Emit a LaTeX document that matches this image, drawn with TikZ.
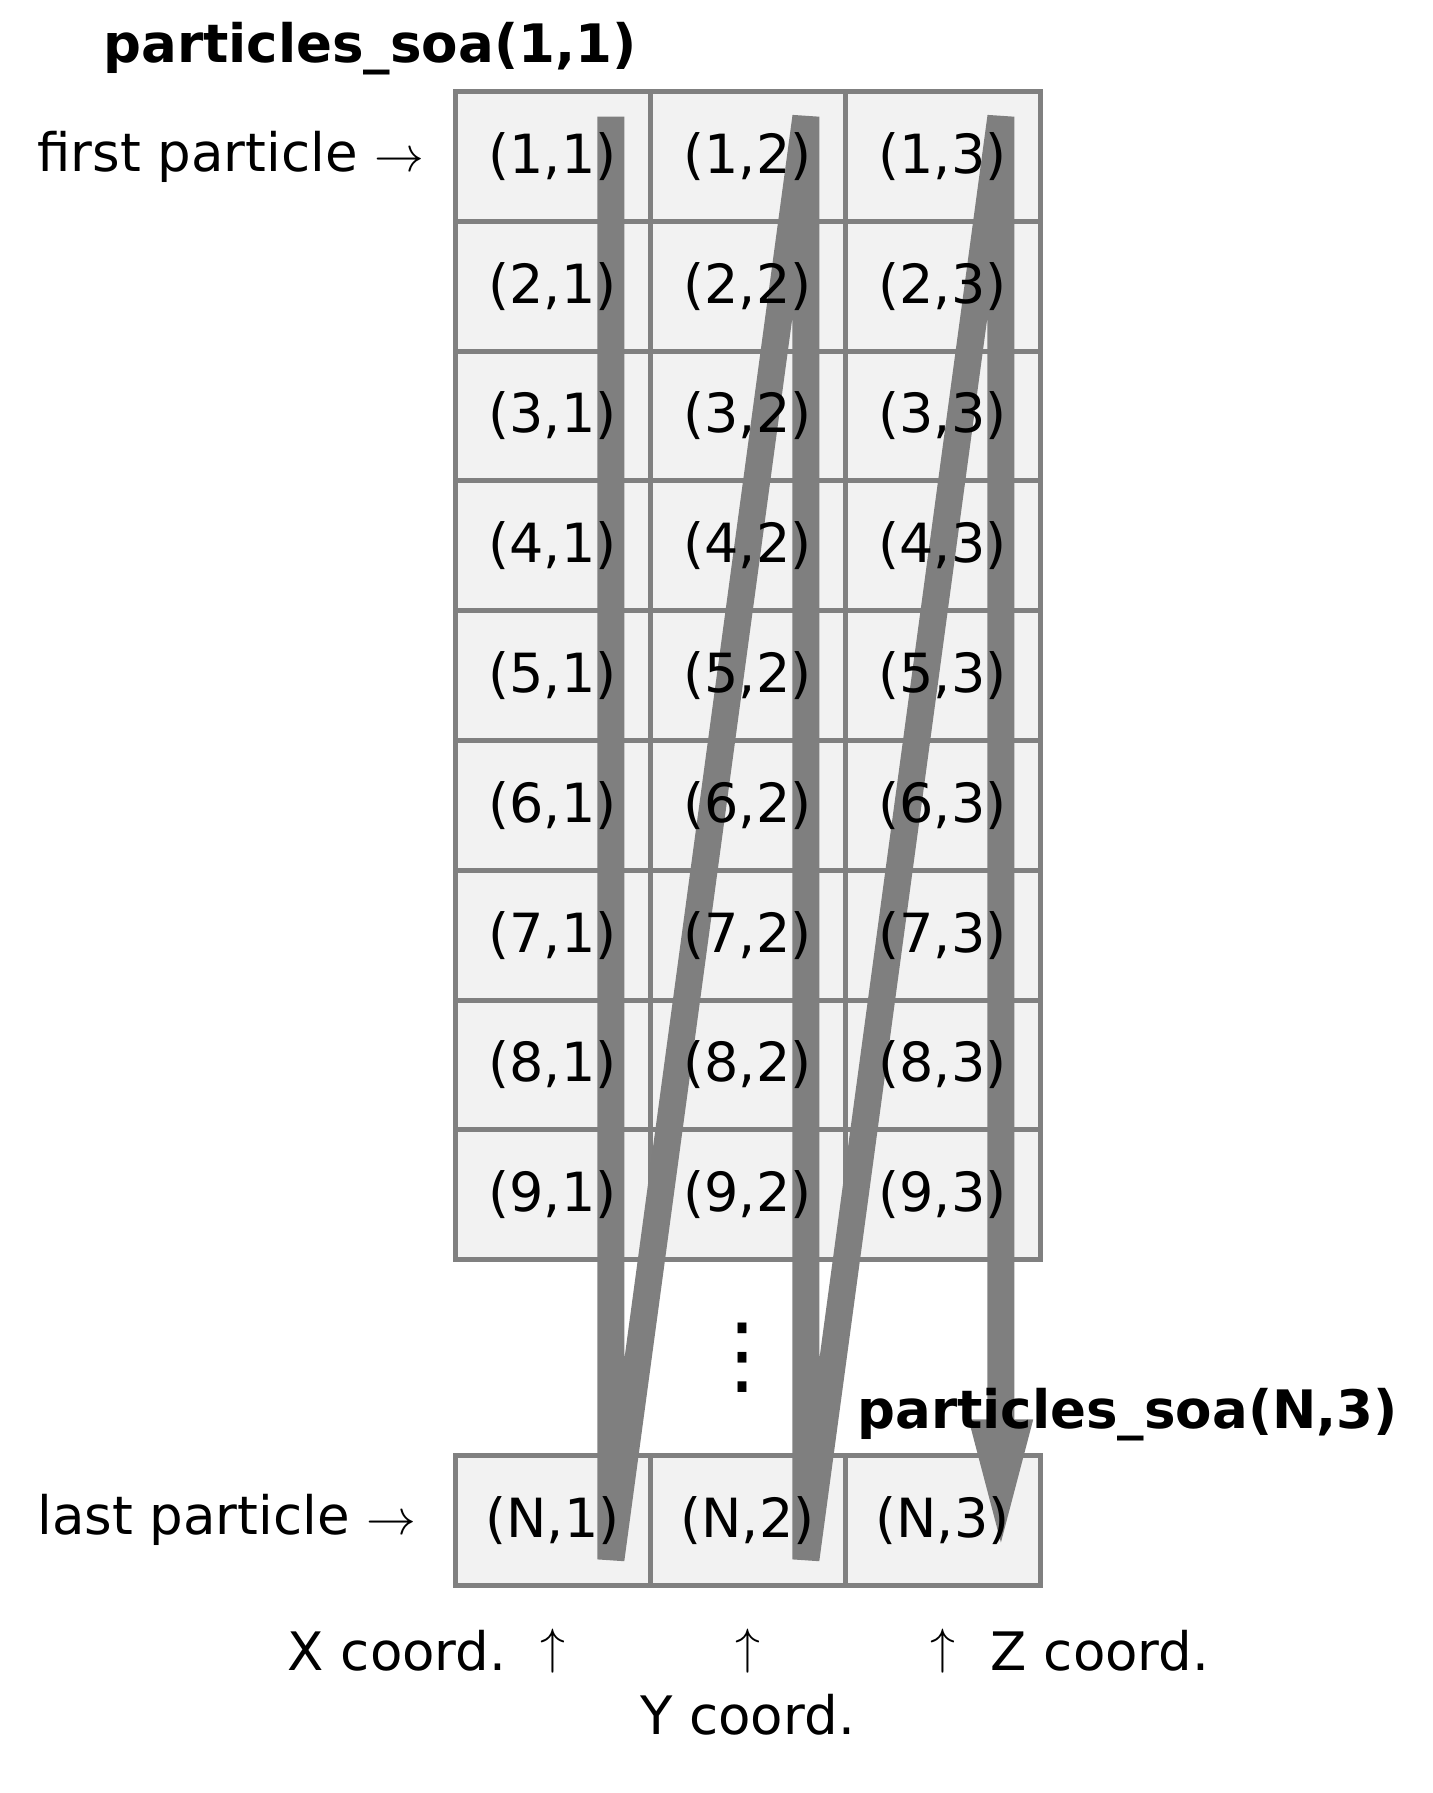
\documentclass[tikz,border=0pt]{standalone}
\usepackage{fontspec}
\setmainfont{DejaVu Sans}
\usetikzlibrary{positioning, arrows.meta, calc}

\definecolor{cellfill}{HTML}{F2F2F2}
\definecolor{cellline}{HTML}{808080}
\definecolor{bargray}{HTML}{7F7F7F}

\begin{document}
\begin{tikzpicture}[x=0.5pt, y=-0.5pt,
        cell/.style={draw=cellline, line width=2.5pt, fill=cellfill, minimum width=97.5pt, minimum height=64.9pt, inner sep=0pt, outer sep=0pt},
        entry/.style={inner sep=0pt, font=\fontsize{27pt}{32pt}\selectfont},
        lbl/.style={inner sep=0pt, font=\fontsize{26.5pt}{32pt}\selectfont},
        ttl/.style={inner sep=0pt, font=\fontsize{26.5pt}{32pt}\selectfont\bfseries},
        uparr/.style={inner sep=0pt, font=\fontsize{29pt}{34pt}\selectfont},
        vdots/.style={inner sep=0pt, font=\fontsize{43pt}{43pt}\selectfont},
        zigzag/.style={draw=bargray, line width=13.5pt, line join=bevel, -{Triangle[length=70pt, width=27.5pt]}}]
        \useasboundingbox (0,0) rectangle (1432,1793);

        \foreach \i in {1,...,9}
            \foreach \j in {1,2,3}
                \node[cell] (c-\i-\j) at (357.5+195*\j, 26.6+129.8*\i) {};
        \foreach \j in {1,2,3}
            \node[cell] (c-N-\j) at (357.5+195*\j, 1520.3) {};

        \foreach \j in {1,2,3} {
            \coordinate (top-\j) at ($(c-1-\j.north)+(58.4,25.2)$);
            \coordinate (bot-\j) at ($(c-N-\j.south)+(58.4,-25.8)$);
        }
        \draw[zigzag] (top-1) -- (bot-1) -- (top-2) -- (bot-2) -- (top-3) -- (bot-3);

        \foreach \i in {1,...,9}
            \foreach \j in {1,2,3}
                \node[entry] (e-\i-\j) at (c-\i-\j) {(\i,\j)};
        \foreach \j in {1,2,3}
            \node[entry] (e-N-\j) at (c-N-\j) {(N,\j)};

        \node[vdots] (dots) at ($(c-9-2.south)!0.5!(c-N-2.north)+(-5.5,0)$) {⋮};

        \node[ttl, anchor=base west] (soa11) at (103,63) {particles\_soa(1,1)};
        \node[ttl, anchor=base west] (soaN3) at (857,1428) {particles\_soa(N,3)};

        \node[lbl, anchor=west] (first) at (37,0 |- c-1-1) {first particle $\rightarrow$};
        \node[lbl, anchor=west] (last) at (37,0 |- c-N-1) {last particle $\rightarrow$};

        \node[uparr, below = 21.6pt of c-N-1] (up-1) {$\uparrow$};
        \node[uparr, below = 21.6pt of c-N-2] (up-2) {$\uparrow$};
        \node[uparr, below = 21.6pt of c-N-3] (up-3) {$\uparrow$};
        \node[lbl, left = 16.5pt of up-1] (xc) {X coord.};
        \node[lbl, below = 10pt of up-2] (yc) {Y coord.};
        \node[lbl, right = 17.5pt of up-3] (zc) {Z coord.};
    \end{tikzpicture}
\end{document}
